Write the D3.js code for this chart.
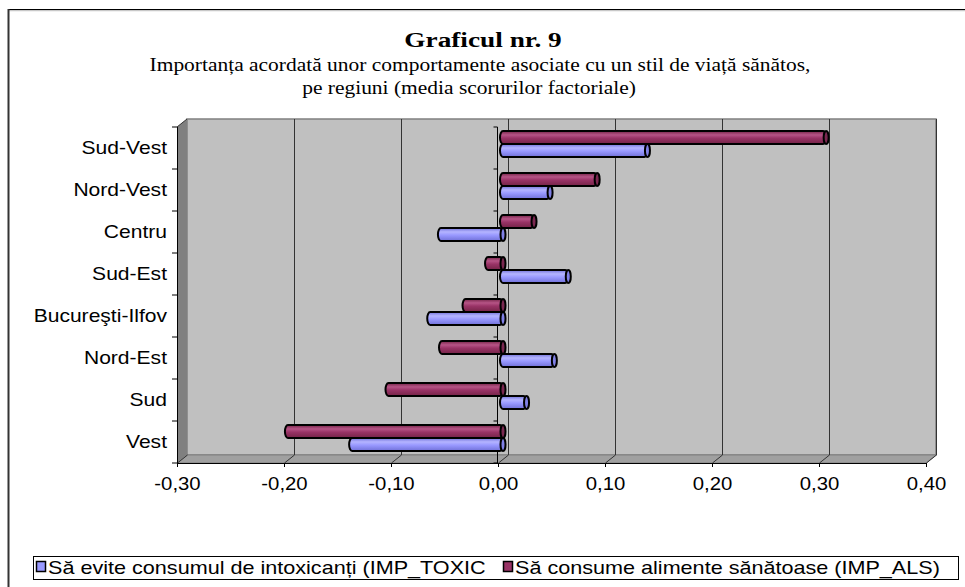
<!DOCTYPE html>
<html>
<head>
<meta charset="utf-8">
<script src="https://cdn.jsdelivr.net/npm/d3@7/dist/d3.min.js"></script>
<style>
body { margin: 0; background: #fff; }
svg { display: block; }
</style>
</head>
<body>
<svg id="chart" width="965" height="587"></svg>
<script>
// data, bottom to top as in the sheet
var regions = ["Vest", "Sud", "Nord-Est", "Bucureşti-Ilfov", "Sud-Est", "Centru", "Nord-Vest", "Sud-Vest"];
var toxic = [-0.141, 0.022, 0.048, -0.068, 0.061, -0.058, 0.044, 0.135];
var als = [-0.201, -0.107, -0.057, -0.035, -0.014, 0.029, 0.088, 0.302];
var xTicks = [-0.3, -0.2, -0.1, 0, 0.1, 0.2, 0.3, 0.4];
var seriesNames = ["Să evite consumul de intoxicanți (IMP_TOXIC", "Să consume alimente sănătoase (IMP_ALS)"];

var svg = d3.select('#chart');
var dx = 10, dy = -8; // depth of the 3d box

var x = d3.scaleLinear().domain([-0.3, 0.4]).range([177, 926]);
var y = d3.scaleBand().domain(regions).range([463, 127]);
var sub = d3.scaleBand().domain(["als", "toxic"]).range([8, 34]);

var loc = d3.formatLocale({ decimal: ",", thousands: ".", grouping: [3], currency: ["", ""], minus: "-" });
var fmt = loc.format(".2f");

// outer frame
svg.append('line').attr('x1', 8).attr('y1', 10.5).attr('x2', 965).attr('y2', 10.5).attr('stroke', '#c8c8c8').attr('stroke-width', 1.5);
svg.append('line').attr('x1', 8).attr('y1', 9.5).attr('x2', 965).attr('y2', 9.5).attr('stroke', '#000');
svg.append('line').attr('x1', 8.5).attr('y1', 9).attr('x2', 8.5).attr('y2', 587).attr('stroke', '#333').attr('stroke-width', 2);

// text is a bit wide in the picture, so stretch it
function stretched(g, tx, ty, txt, font, size, sx, weight, anchor) {
	return g.append('text')
		.attr('transform', 'translate(' + tx + ',' + ty + ') scale(' + sx + ',1)')
		.attr('text-anchor', anchor || 'middle')
		.style('font-family', font)
		.style('font-size', size + 'px')
		.style('font-weight', weight || 'normal')
		.text(txt);
}
var serif = '"Liberation Serif", "Times New Roman", serif';
var sans = '"Liberation Sans", Arial, sans-serif';
stretched(svg, 483, 47, 'Graficul nr. 9', serif, 21, 1.3, 'bold');
stretched(svg, 480, 71, 'Importanța acordată unor comportamente asociate cu un stil de viață sănătos,', serif, 19, 1.13);
stretched(svg, 469, 94, 'pe regiuni (media scorurilor factoriale)', serif, 19, 1.13);

// walls
var x0 = x.range()[0], x1 = x.range()[1], yt = 127, yb = 463;
svg.append('rect').attr('x', x0 + dx).attr('y', yt + dy).attr('width', x1 - x0).attr('height', yb - yt)
	.attr('fill', '#c0c0c0').attr('stroke', '#808080').attr('stroke-width', 1.5);
svg.append('polygon')
	.attr('points', [[x0, yt], [x0 + dx, yt + dy], [x0 + dx, yb + dy], [x0, yb]].join(' '))
	.attr('fill', '#808080');
svg.append('polygon')
	.attr('points', [[x0, yb], [x0 + dx, yb + dy], [x1 + dx, yb + dy], [x1, yb]].join(' '))
	.attr('fill', '#a0a0a0').attr('stroke', '#808080');

// gridlines on wall and floor
var grid = svg.append('g');
xTicks.forEach(function (v, i) {
	var px = Math.round(x(v)) + 0.5;
	if (i > 0) {
		grid.append('line').attr('x1', px + dx).attr('x2', px + dx).attr('y1', yt + dy).attr('y2', yb + dy)
			.attr('stroke', '#333').attr('stroke-width', 1);
	}
	grid.append('line').attr('x1', px).attr('y1', yb).attr('x2', px + dx).attr('y2', yb + dy)
		.attr('stroke', '#333').attr('stroke-width', 1);
});

// category axis at zero
var zx = Math.round(x(0)) - 0.5;
svg.append('line').attr('x1', zx).attr('x2', zx).attr('y1', yt).attr('y2', yb).attr('stroke', '#000');
var bounds = regions.map(function (r) { return y(r); }).concat([yb]);
bounds.forEach(function (b) {
	svg.append('line').attr('x1', zx - 4).attr('x2', zx).attr('y1', b).attr('y2', b).attr('stroke', '#000');
});

// gradients for the cylinders
var defs = svg.append('defs');
function grad(id, dark, light, mid) {
	var g = defs.append('linearGradient').attr('id', id).attr('x1', 0).attr('y1', 0).attr('x2', 0).attr('y2', 1);
	g.append('stop').attr('offset', '0%').attr('stop-color', dark);
	g.append('stop').attr('offset', '30%').attr('stop-color', light);
	g.append('stop').attr('offset', '55%').attr('stop-color', mid);
	g.append('stop').attr('offset', '100%').attr('stop-color', dark);
}
grad('gBlue', '#7070d8', '#b4b4ff', '#9999ff');
grad('gRed', '#742447', '#b65486', '#993366');

var series = [
	{ key: 'als', values: als, fill: 'url(#gRed)', cap: '#7a2850' },
	{ key: 'toxic', values: toxic, fill: 'url(#gBlue)', cap: '#8080e6' }
];
var zm = x(0) + dx / 2; // zero at mid depth
var bars = svg.append('g');
series.forEach(function (s) {
	var h = sub.bandwidth();
	regions.forEach(function (r, i) {
		var v = s.values[i];
		var xv = x(v) + dx / 2;
		var left = Math.min(zm, xv), right = Math.max(zm, xv);
		var top = y(r) + dy / 2 + sub(s.key);
		bars.append('rect')
			.attr('x', left - 3).attr('y', top).attr('width', right - left + 3).attr('height', h)
			.attr('rx', 3).attr('ry', h / 2)
			.attr('fill', s.fill).attr('stroke', '#000').attr('stroke-width', 2);
		bars.append('ellipse')
			.attr('cx', right).attr('cy', top + h / 2).attr('rx', 2.5).attr('ry', h / 2)
			.attr('fill', s.cap).attr('stroke', '#000').attr('stroke-width', 2);
	});
});

// front axes
var xAxis = svg.append('g').attr('transform', 'translate(0,' + yb + ')')
	.call(d3.axisBottom(x).tickValues(xTicks).tickFormat(fmt).tickSize(4).tickPadding(6));
xAxis.select('.domain').attr('stroke', '#000');
xAxis.selectAll('text')
	.attr('transform', 'scale(1.13,1)')
	.attr('dy', '0.95em')
	.style('font-family', sans).style('font-size', '18px').attr('fill', '#000');

svg.append('line').attr('x1', x0 + 0.5).attr('x2', x0 + 0.5).attr('y1', yt).attr('y2', yb).attr('stroke', '#000');
svg.append('line').attr('x1', x0).attr('y1', yt).attr('x2', x0 + dx).attr('y2', yt + dy).attr('stroke', '#333');
bounds.forEach(function (b) {
	svg.append('line').attr('x1', x0 - 5).attr('x2', x0).attr('y1', b).attr('y2', b).attr('stroke', '#000');
});
var yAxis = svg.append('g').attr('transform', 'translate(' + x0 + ',0)')
	.call(d3.axisLeft(y).tickSize(0).tickPadding(10));
yAxis.select('.domain').remove();
yAxis.selectAll('text')
	.attr('transform', 'translate(-10,0) scale(1.17,1)')
	.attr('x', 0)
	.style('font-family', sans).style('font-size', '18px').attr('fill', '#000');

// legend
var lg = svg.append('g');
lg.append('rect').attr('x', 33.5).attr('y', 556.5).attr('width', 925).attr('height', 23)
	.attr('fill', '#fff').attr('stroke', '#000');
var legendItems = [
	{ name: seriesNames[0], color: '#9999ff', x: 36 },
	{ name: seriesNames[1], color: '#993366', x: 503 }
];
legendItems.forEach(function (d) {
	lg.append('rect').attr('x', d.x + 0.5).attr('y', 561.5).attr('width', 9).attr('height', 10)
		.attr('fill', d.color).attr('stroke', '#000').attr('stroke-width', 1.5);
	stretched(lg, d.x + 12, 574, d.name, sans, 18, 1.2, 'normal', 'start');
});
</script>
</body>
</html>
